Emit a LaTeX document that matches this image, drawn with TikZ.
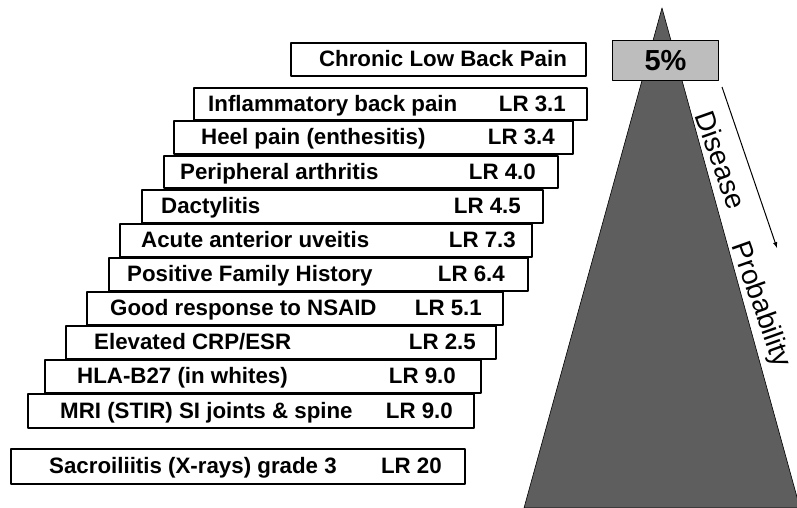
\documentclass[tikz,border=0pt]{standalone}
\usepackage{fontspec}
\setmainfont{Liberation Sans}
\begin{document}
\begin{tikzpicture}[x=1pt, y=-1pt, line join=round, >=latex,
    riskbox/.style={draw, line width=1.8pt, fill=white, inner sep=0pt, anchor=north west},
    boxtext/.style={inner sep=0pt, font=\fontsize{22.3}{26}\selectfont\bfseries},
    sidetext/.style={inner sep=0pt, font=\fontsize{28}{32}\selectfont}]
  \definecolor{pyramid}{HTML}{5E5E5E}
  \definecolor{prior}{HTML}{BDBDBD}
  \useasboundingbox (0,0) rectangle (797,508);
  % probability pyramid
  \draw[fill=pyramid, line width=0.6pt] (662,8) -- (524,508) -- (800,508) -- cycle;
  \node[draw, line width=1pt, fill=prior, minimum width=106pt, minimum height=40pt,
        inner sep=0pt, anchor=north west, font=\fontsize{29}{33}\selectfont\bfseries]
        (prior) at (612,40) {5\%};
  \coordinate (arrtop) at (722,87);
  \coordinate (arrend) at (777,248);
  \draw[->, line width=1pt] (arrtop) -- (arrend);
  \node[sidetext, rotate=-70.5] (dis) at (721,160) {Disease};
  \node[sidetext, rotate=-70.5] (prob) at (760,305) {Probability};
  % starting point
  \node[riskbox, minimum width=295pt, minimum height=33pt] (chronic) at (290,42) {};
  \node[boxtext] (chronic-t) at (443,58.5) {Chronic Low Back Pain};
  % findings with likelihood ratios
  \foreach \nm/\xl/\xr/\yt/\yb/\tx/\txt/\lx/\lr in {
      inflam/193/586/87/119/208/{Inflammatory back pain}/566/{LR 3.1},
      heel/173/572/120/153/201/{Heel pain (enthesitis)}/555/{LR 3.4},
      periph/163/557/155/187/180/{Peripheral arthritis}/536/{LR 4.0},
      dact/141/542/189/222/161/{Dactylitis}/521/{LR 4.5},
      uveitis/119/531/223/256/141/{Acute anterior uveitis}/516/{LR 7.3},
      family/108/527/257/290/127/{Positive Family History}/505/{LR 6.4},
      nsaid/86/502/291/324/110/{Good response to NSAID}/482/{LR 5.1},
      crp/65/495/325/358/94/{Elevated CRP/ESR}/476/{LR 2.5},
      hla/44/480/359/392/77/{HLA-B27 (in whites)}/456/{LR 9.0},
      mri/27/473/393/427/60/{MRI (STIR) SI joints \& spine}/453/{LR 9.0},
      xray/10/464/448/483/49/{Sacroiliitis (X-rays) grade 3}/442/{LR 20}} {
    \pgfmathsetmacro\bw{\xr-\xl}
    \pgfmathsetmacro\bh{\yb-\yt}
    \pgfmathsetmacro\ym{(\yt+\yb)/2+8}
    \node[riskbox, minimum width=\bw pt, minimum height=\bh pt] (\nm) at (\xl,\yt) {};
    \node[boxtext, anchor=base west] (\nm-t) at (\tx,\ym) {\txt};
    \node[boxtext, anchor=base east] (\nm-lr) at (\lx,\ym) {\lr};
  }
\end{tikzpicture}
\end{document}
